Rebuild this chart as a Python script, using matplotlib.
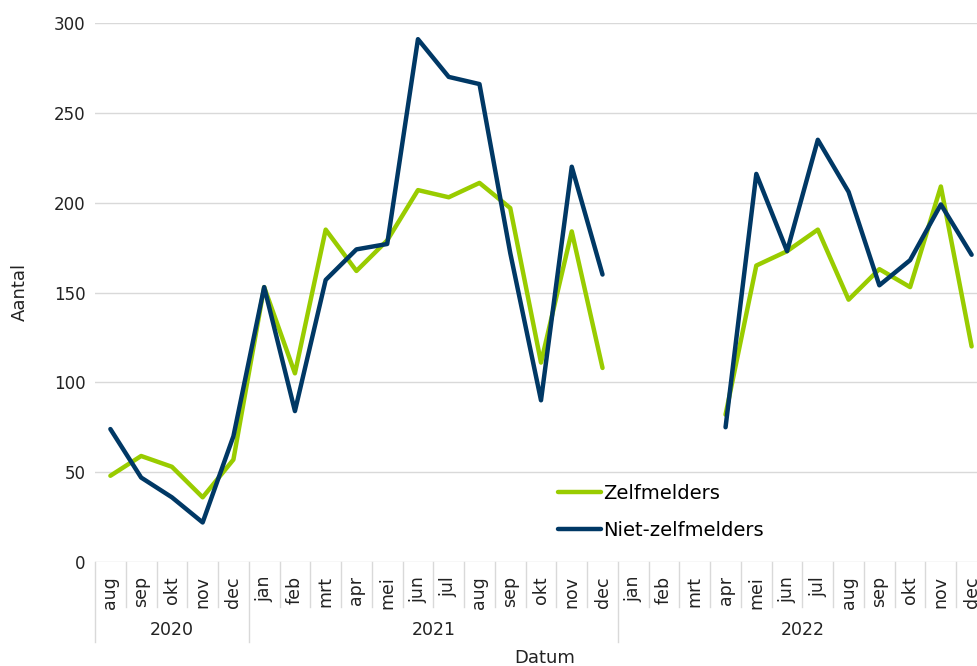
import numpy as np
import matplotlib.pyplot as plt
from matplotlib.transforms import blended_transform_factory

# months per year (2020 starts in august)
years = ['2020', '2021', '2022']
months_2020 = ['aug', 'sep', 'okt', 'nov', 'dec']
months_full = ['jan', 'feb', 'mrt', 'apr', 'mei', 'jun', 'jul', 'aug', 'sep', 'okt', 'nov', 'dec']
month_labels = months_2020 + months_full + months_full

nan = np.nan
zelfmelders = [48, 59, 53, 36, 57,
               153, 105, 185, 162, 179, 207, 203, 211, 197, 111, 184, 108,
               nan, nan, nan, 82, 165, 173, 185, 146, 163, 153, 209, 120]
niet_zelfmelders = [74, 47, 36, 22, 70,
                    153, 84, 157, 174, 177, 291, 270, 266, 172, 90, 220, 160,
                    nan, nan, nan, 75, 216, 173, 235, 206, 154, 168, 199, 171]

green = '#99cc00'
navy = '#003865'
grid_col = '#d9d9d9'
text_col = '#222222'

fig = plt.figure(figsize=(9.78, 6.66), dpi=100)
ax = fig.add_axes([95 / 978, 1 - 562 / 666, 892 / 978, 539 / 666])

x = np.arange(len(month_labels))
ax.plot(x, zelfmelders, color=green, linewidth=3.2, label='Zelfmelders', solid_capstyle='round')
ax.plot(x, niet_zelfmelders, color=navy, linewidth=3.2, label='Niet-zelfmelders', solid_capstyle='round')

ax.set_xlim(-0.5, len(month_labels) - 0.5)
ax.set_ylim(0, 300)
ax.set_yticks(np.arange(0, 301, 50))
ax.yaxis.grid(True, color=grid_col, linewidth=1)
ax.set_axisbelow(True)
for s in ax.spines.values():
    s.set_visible(False)
ax.tick_params(axis='y', length=0, pad=7, labelsize=12, labelcolor=text_col)

ax.set_xticks(x)
ax.set_xticklabels(month_labels, rotation=90, fontsize=12.5, color=text_col)
ax.tick_params(axis='x', length=0, pad=10)

# category separators below the axis (longer ones between years)
trans = blended_transform_factory(ax.transData, ax.transAxes)
year_sizes = [len(months_2020), 12, 12]
bounds = np.concatenate([[0], np.cumsum(year_sizes)]) - 0.5
for b in np.arange(len(month_labels) + 1) - 0.5:
    depth = 80 if b in bounds else 45
    line = plt.Line2D([b, b], [0, -depth / 539], color=grid_col, linewidth=1,
                      clip_on=False, transform=trans)
    ax.add_line(line)
for i, yr in enumerate(years):
    mid = (bounds[i] + bounds[i + 1]) / 2
    ax.text(mid, -68 / 539, yr, transform=trans, ha='center', va='center',
            fontsize=12.5, color=text_col)

fig.text(545 / 978, 1 - 658 / 666, 'Datum', ha='center', va='center', fontsize=13, color=text_col)
fig.text(20 / 978, 1 - 292 / 666, 'Aantal', ha='center', va='center', rotation=90, fontsize=13, color=text_col)

ax.legend(loc='center left', bbox_to_anchor=(558 / 978, 1 - 512 / 666), bbox_transform=fig.transFigure,
          frameon=False, fontsize=14, handlelength=2.2, handletextpad=0.1, labelspacing=0.9,
          borderpad=0, borderaxespad=0)

fig.savefig('out.png', dpi=100)
